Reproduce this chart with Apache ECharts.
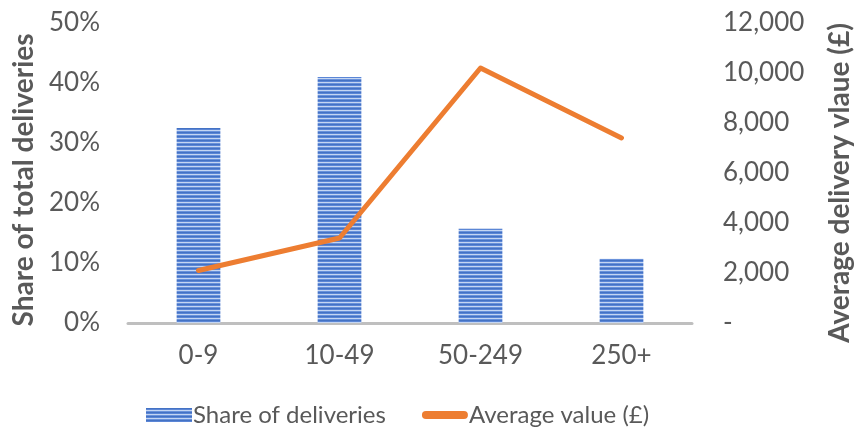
<!DOCTYPE html>
<html>
<head>
<meta charset="utf-8">
<script src="https://cdn.jsdelivr.net/npm/echarts@6/dist/echarts.min.js"></script>
<style>
  html, body { margin: 0; padding: 0; background: #fff; }
  #chart { width: 855px; height: 434px; }
</style>
</head>
<body>
<div id="chart"></div>
<script>
// Business size bands (number of employees)
const categories = ['0-9', '10-49', '50-249', '250+'];
// Share of total deliveries, %
const shareValues = [32.5, 41, 15.7, 10.7];
// Average delivery value, £
const avgValues = [2100, 3400, 10200, 7400];
const leftTicks = { min: 0, max: 50, interval: 10 };
const rightTicks = { min: 0, max: 12000, interval: 2000 };

const FONT = 'Lato, "Open Sans", sans-serif';
const TEXT = '#595959';

// Horizontal-stripe fill for the bars
function stripePattern() {
  const c = document.createElement('canvas');
  c.width = 4; c.height = 4;
  const ctx = c.getContext('2d');
  const rows = ['#4472C4', '#5B86D6', '#C5D6F2', '#6A92DB'];
  rows.forEach((col, i) => { ctx.fillStyle = col; ctx.fillRect(0, i, 4, 1); });
  return c;
}
const pattern = { image: stripePattern(), repeat: 'repeat' };

const chart = echarts.init(document.getElementById('chart'), null, { renderer: 'canvas' });
chart.setOption({
  animation: false,
  textStyle: { fontFamily: FONT },
  grid: { left: 128, right: 163, top: 23, bottom: 111, containLabel: false, outerBoundsMode: 'none' },
  legend: {
    bottom: 2,
    left: 141,
    itemWidth: 46,
    itemHeight: 14,
    itemGap: 36,
    textStyle: { fontFamily: FONT, fontSize: 24, color: TEXT, padding: [0, 0, 0, -4] },
    data: [
      { name: 'Share of deliveries', icon: 'rect', itemStyle: { color: pattern } },
      { name: 'Average value (£)', icon: 'path://M0,4 a4,4 0 0 1 4,-4 h38 a4,4 0 0 1 0,8 h-38 a4,4 0 0 1 -4,-4 z', itemStyle: { color: '#ED7D31' } }
    ]
  },
  xAxis: {
    type: 'category',
    data: categories,
    axisLine: { lineStyle: { color: '#BFBFBF', width: 3 } },
    axisTick: { show: false },
    axisLabel: { color: TEXT, fontSize: 26, fontFamily: FONT, margin: 20 }
  },
  yAxis: [
    {
      type: 'value',
      min: leftTicks.min, max: leftTicks.max, interval: leftTicks.interval,
      name: 'Share of total deliveries',
      nameLocation: 'middle',
      nameGap: 88,
      nameTextStyle: { color: TEXT, fontSize: 28, fontWeight: 'bold', fontFamily: FONT, padding: [0, 14, 0, 0] },
      splitLine: { show: false },
      axisLine: { show: false },
      axisTick: { show: false },
      axisLabel: { color: TEXT, fontSize: 26, fontFamily: FONT, margin: 28, formatter: v => v + '%' }
    },
    {
      type: 'value',
      min: rightTicks.min, max: rightTicks.max, interval: rightTicks.interval,
      name: 'Average delivery vlaue (£)',
      nameLocation: 'middle',
      nameGap: 134,
      nameRotate: 90,
      nameTextStyle: { color: TEXT, fontSize: 28, fontWeight: 'bold', fontFamily: FONT, padding: [0, 20, 0, 0] },
      splitLine: { show: false },
      axisLine: { show: false },
      axisTick: { show: false },
      axisLabel: {
        color: TEXT, fontSize: 26, fontFamily: FONT, margin: 31,
        formatter: v => v === 0 ? '-' : v.toLocaleString('en-GB')
      }
    }
  ],
  series: [
    {
      name: 'Share of deliveries',
      type: 'bar',
      yAxisIndex: 0,
      data: shareValues,
      barWidth: '31%',
      itemStyle: { color: pattern }
    },
    {
      name: 'Average value (£)',
      type: 'line',
      yAxisIndex: 1,
      data: avgValues,
      symbol: 'none',
      lineStyle: { color: '#ED7D31', width: 5, cap: 'round', join: 'round' },
      itemStyle: { color: '#ED7D31' }
    }
  ]
});
</script>
</body>
</html>
